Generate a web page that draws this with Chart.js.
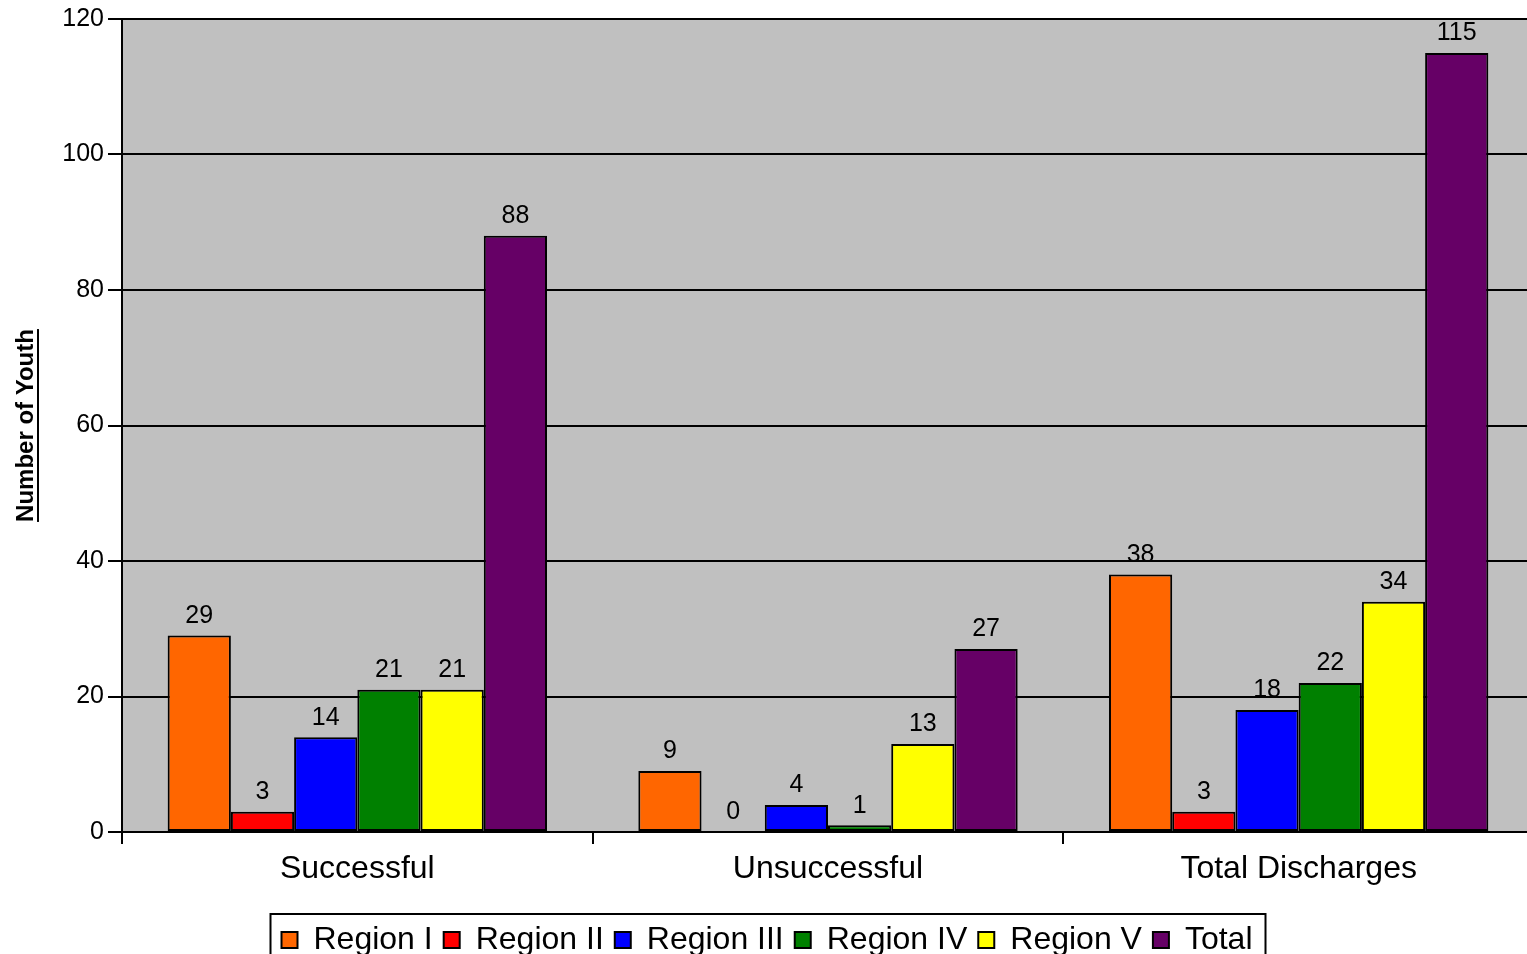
<!DOCTYPE html>
<html lang="en">
<head>
    <meta charset="UTF-8">
    <title>Youth Discharges by Region</title>
    <script src="https://cdn.jsdelivr.net/npm/chart.js"></script>
    <style>
        html, body { margin: 0; padding: 0; background: #fff; overflow: hidden; }
        .chart-wrap { width: 1534px; height: 968px; position: relative; }
    </style>
</head>
<body>
    <div class="chart-wrap"><canvas id="dischargeChart"></canvas></div>

    <script>
        // data
        const categories = ["Successful", "Unsuccessful", "Total Discharges"];
        const regionI   = [29, 9, 38];
        const regionII  = [3, 0, 3];
        const regionIII = [14, 4, 18];
        const regionIV  = [21, 1, 22];
        const regionV   = [21, 13, 34];
        const total     = [88, 27, 115];
        const yTicks    = [0, 20, 40, 60, 80, 100, 120];

        const FONT = "'Liberation Sans', Arial, sans-serif";

        function series(label, data, color) {
            return { label, data, backgroundColor: color, borderColor: "#000", borderWidth: 2, borderSkipped: false };
        }

        // grey plot area
        const plotBg = {
            id: "plotBg",
            beforeDraw(chart) {
                const { ctx, chartArea: a } = chart;
                ctx.save();
                ctx.fillStyle = "#C0C0C0";
                ctx.fillRect(a.left, a.top, a.right - a.left, a.bottom - a.top);
                ctx.restore();
            }
        };

        // value labels above the bars
        const valueLabels = {
            id: "valueLabels",
            afterDatasetsDraw(chart) {
                const ctx = chart.ctx;
                ctx.save();
                ctx.font = "25px " + FONT;
                ctx.fillStyle = "#000";
                ctx.textAlign = "center";
                ctx.textBaseline = "bottom";
                chart.data.datasets.forEach((ds, i) => {
                    chart.getDatasetMeta(i).data.forEach((bar, j) => {
                        ctx.fillText(ds.data[j], bar.x, bar.y - 7);
                    });
                });
                ctx.restore();
            }
        };

        // underlined y title + frame round the legend
        const extras = {
            id: "extras",
            afterDraw(chart) {
                const { ctx, chartArea: a } = chart;
                ctx.save();
                const title = "Number of Youth";
                ctx.font = "bold 24px " + FONT;
                const w = ctx.measureText(title).width;
                const cy = (a.top + a.bottom) / 2;
                ctx.translate(26, cy);
                ctx.rotate(-Math.PI / 2);
                ctx.fillStyle = "#000";
                ctx.textAlign = "center";
                ctx.textBaseline = "middle";
                ctx.fillText(title, 0, 0);
                ctx.fillRect(-w / 2, 11, w, 2);
                ctx.restore();

                const boxes = chart.legend.legendHitBoxes;
                if (boxes && boxes.length) {
                    const left = Math.min(...boxes.map(b => b.left)) - 11;
                    const right = Math.max(...boxes.map(b => b.left + b.width)) + 13;
                    const top = boxes[0].top - 10;
                    ctx.save();
                    ctx.strokeStyle = "#000";
                    ctx.lineWidth = 2;
                    ctx.strokeRect(left, top, right - left, chart.height + 20 - top);
                    ctx.restore();
                }
            }
        };

        new Chart(document.getElementById("dischargeChart"), {
            type: "bar",
            data: {
                labels: categories,
                datasets: [
                    series("Region I", regionI, "#FF6600"),
                    series("Region II", regionII, "#FF0000"),
                    series("Region III", regionIII, "#0000FF"),
                    series("Region IV", regionIV, "#008000"),
                    series("Region V", regionV, "#FFFF00"),
                    series("Total", total, "#660066")
                ]
            },
            options: {
                responsive: true,
                maintainAspectRatio: false,
                animation: false,
                layout: { padding: { top: 17, right: 0, bottom: 2, left: 0 } },
                datasets: { bar: { categoryPercentage: 0.806, barPercentage: 1 } },
                scales: {
                    x: {
                        grid: { offset: true, drawOnChartArea: false, drawTicks: true, tickLength: 12, color: "#000", lineWidth: 2 },
                        border: { color: "#000", width: 2 },
                        ticks: { color: "#000", font: { family: FONT, size: 32 }, padding: 6, maxRotation: 0 },
                        afterFit(s) { s.height = 81; }
                    },
                    y: {
                        min: 0,
                        max: 120,
                        afterBuildTicks(s) { s.ticks = yTicks.map(v => ({ value: v })); },
                        grid: { color: "#000", lineWidth: 2, tickLength: 14 },
                        border: { color: "#000", width: 2 },
                        ticks: { color: "#000", font: { family: FONT, size: 25 }, padding: 4 },
                        afterFit(s) { s.width = 122; }
                    }
                },
                plugins: {
                    legend: {
                        position: "bottom",
                        labels: { color: "#000", font: { family: FONT, size: 32 }, boxWidth: 16, boxHeight: 16, padding: 11 }
                    },
                    tooltip: { enabled: false }
                }
            },
            plugins: [plotBg, valueLabels, extras]
        });
    </script>
</body>
</html>
